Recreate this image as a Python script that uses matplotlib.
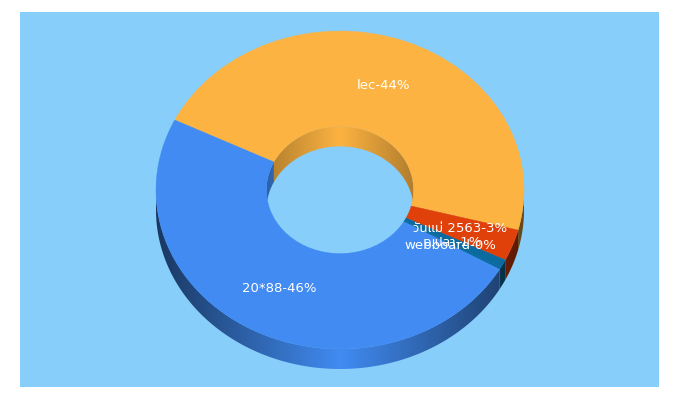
import numpy as np
import matplotlib
matplotlib.use('Agg')
import matplotlib.pyplot as plt
from matplotlib.colors import to_rgb
from matplotlib.patches import Polygon

names = ['lec', 'วันแม่ 2563', 'อ.ปลา', 'webboard', '20*88']
percents = [44, 3, 1, 0, 46]
# webboard shows 0% but still has a thin slice
shares = [44, 3, 0.75, 0.25, 46]
colors = ['#fdb341', '#e0400a', '#0b6a9e', '#0b6a9e', '#418bf2']

# pixel layout of the donut
cx, cy = 340, 190
rx, ry = 184, 159
hole = 0.4
depth = 20
start = 153.9


def to_x(px):
    return (px - cx) / rx


def to_y(py):
    return (cy - py) / ry


def wall(t0, t1, r, color, edge):
    # side wall: a horizontal gradient clipped to the band under the arc
    ts = np.radians(np.linspace(t0, t1, 200))
    xs = r * np.cos(ts)
    ys = r * np.sin(ts)
    band = np.column_stack([np.r_[xs, xs[::-1]], np.r_[ys, ys[::-1] - depth / ry]])
    shape = Polygon(band, closed=True, transform=ax.transData, fc='none', ec='none')
    ax.add_patch(shape)
    u = np.linspace(-1, 1, 512)
    shade = 1 - edge * np.abs(u)
    img = np.array(to_rgb(color))[None, None, :] * shade[None, :, None]
    im = ax.imshow(img, extent=(-r, r, -1.5, 1.5), aspect='auto', zorder=1,
                   interpolation='bilinear')
    im.set_clip_path(shape)


fig = plt.figure(figsize=(6.8, 4), dpi=100, facecolor='white')
bg = fig.add_axes([20 / 680, 13 / 400, 639 / 680, 375 / 400])
bg.set_facecolor('#87cefa')
bg.set_xticks([])
bg.set_yticks([])
for s in bg.spines.values():
    s.set_visible(False)

ax = fig.add_axes([0, 0, 1, 1])
ax.patch.set_alpha(0)

# slice limits, clockwise from the start angle
limits = start - np.cumsum([0] + shares) / sum(shares) * 360

for i in range(len(shares)):
    t0, t1 = limits[i], limits[i + 1]
    # outer wall, only the front half shows
    for turn in (0, 360):
        lo, hi = max(t1 + turn, -180), min(t0 + turn, 0)
        if hi > lo:
            wall(lo, hi, 1, colors[i], 0.6)
    # inner wall, only the back half shows
    for turn in (0, 360):
        lo, hi = max(t1 + turn, 0), min(t0 + turn, 180)
        if hi > lo:
            wall(lo, hi, hole, colors[i], 0.3)

wedges, _ = ax.pie(shares, colors=colors, startangle=start, counterclock=False, radius=1,
                   wedgeprops={'width': 1 - hole, 'linewidth': 0.3, 'zorder': 3})
# same colour edge hides the seams between slices
for w, c in zip(wedges, colors):
    w.set_edgecolor(c)
ax.set_aspect('auto')
ax.set_xlim(to_x(0), to_x(680))
ax.set_ylim(to_y(400), to_y(0))
ax.set_axis_off()

label_x = [383.5, 460, 452, 450, 279]
label_y = [85.5, 228, 242, 245.5, 288]
for name, pct, lx, ly in zip(names, percents, label_x, label_y):
    ax.text(to_x(lx), to_y(ly), f'{name}-{pct}%', color='white', fontsize=9.5,
            ha='center', va='center', family=['DejaVu Sans', 'Noto Sans Thai'], zorder=5)

fig.savefig('out.png', dpi=100)
